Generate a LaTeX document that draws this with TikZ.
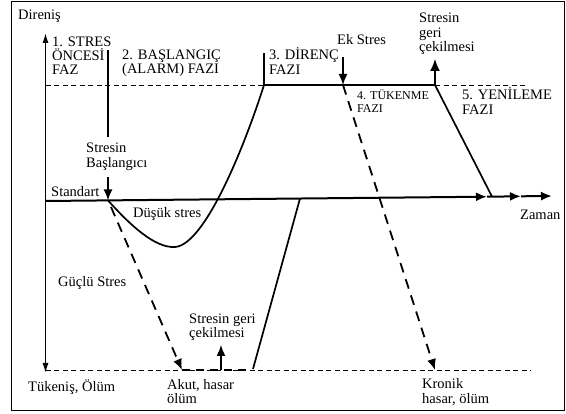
\documentclass[tikz,border=0pt]{standalone}
\usepackage{fontspec}
\setmainfont{Liberation Serif}
\usetikzlibrary{arrows.meta}
\begin{document}
\begin{tikzpicture}[x=1pt,y=-1pt,
  lbl/.style={anchor=base west, inner sep=0pt, align=left, font=\fontsize{14.5}{14.5}\selectfont},
  lead/.style={font=\fontsize{14.5}{#1}\selectfont},
  smalllbl/.style={anchor=base west, inner sep=0pt, align=left, font=\fontsize{12}{13}\selectfont},
  bigtip/.style={-{Latex[length=11pt,width=9pt]}},
  thindash/.style={line width=0.9pt, dash pattern=on 5pt off 3.5pt},
  thickdash/.style={line width=1.8pt, dash pattern=on 10pt off 7pt},
  baseln/.style={line width=2pt},
  sep/.style={line width=1.5pt},
  crv/.style={line width=1.7pt}]
\useasboundingbox (0,0) rectangle (566,414);
\draw[line width=1pt] (11.5,2) rectangle (564.5,411);

% coordinates
\coordinate (ytop) at (45.5,33);
\coordinate (ybot) at (45.5,373);
\coordinate (d0) at (45.5,85);
\coordinate (r0) at (264,85);
\coordinate (r1) at (435,85);
\coordinate (d1) at (528,85);
\coordinate (v1a) at (108,50);
\coordinate (v1b) at (108,137);
\coordinate (v3a) at (264,53);
\coordinate (sb0) at (108,177);
\coordinate (st) at (108,200.4);
\coordinate (s0) at (45.5,201);
\coordinate (a1) at (487,196.7);
\coordinate (a2) at (521,196.3);
\coordinate (a3) at (552,196);
\coordinate (y1) at (492,196.6);
\coordinate (cmin) at (175,247);
\coordinate (g0) at (111,207);
\coordinate (g1) at (182,370);
\coordinate (ek0) at (343,57);
\coordinate (ek) at (343,85);
\coordinate (kr) at (435,370);
\coordinate (up) at (435,59);
\coordinate (b0) at (45.5,370);
\coordinate (b1) at (531,370);
\coordinate (b2) at (250,370);
\coordinate (gc0) at (221,370);
\coordinate (gc1) at (221,345);
\coordinate (b3) at (253,369);
\coordinate (bx) at (300,198.5);

% axis
\draw[line width=1.3pt, {Latex[length=10pt,width=6pt]}-{Latex[length=10pt,width=6pt]}] (ybot) -- (ytop);

% top level line
\draw[thindash] (d0) -- (r0);
\draw[baseln] (r0) -- (r1);
\draw[thindash] (r1) -- (d1);

% separators
\draw[sep] (v1a) -- (v1b);
\draw[sep] (v3a) -- (r0);

% stress start arrow
\draw[sep, bigtip] (sb0) -- (st);

% baseline with arrows
\draw[baseln, bigtip] (s0) -- (a1);
\draw[baseln, bigtip] (a1) -- (a2);
\draw[baseln, bigtip] (a2) -- (a3);

% resistance curve
\draw[crv] (st) .. controls (130,225) and (155,248.3) .. (cmin)
           .. controls (205,245) and (245,145) .. (r0);

% recovery
\draw[crv] (r1) -- (y1);

% strong stress
\draw[thickdash, bigtip] (g0) -- (g1);

% extra stress
\draw[sep, bigtip] (ek0) -- (ek);
\draw[thickdash, bigtip] (ek) -- (kr);

% withdrawal up arrow
\draw[sep, -{Latex[length=12pt,width=10pt]}] (r1) -- (up);

% bottom line
\draw[thindash] (b0) -- (b1);
\draw[line width=2pt, dash pattern=on 8pt off 6pt] (g1) -- (b2);
\draw[sep, bigtip] (gc0) -- (gc1);
\draw[crv] (b3) -- (bx);

% labels (multi-line nodes: base = baseline of last line)
\node[lbl] (dir) at (18,19.5) {Direniş};
\node[lbl, lead=14] (p1) at (52,75) {1. STRES\\ÖNCESİ\\FAZ};
\node[lbl, lead=13] (p2) at (122,74) {2. BAŞLANGIÇ\\(ALARM) FAZI};
\node[lbl, lead=15] (p3) at (269,75) {3. DİRENÇ\\FAZI};
\node[lbl] (eklbl) at (337,45) {Ek Stres};
\node[lbl, lead=14.5] (sgc) at (419,52) {Stresin\\geri\\çekilmesi};
\node[smalllbl] (p4) at (357,113) {4. TÜKENME\\FAZI};
\node[lbl, lead=15] (p5) at (462,115) {5. YENİLEME\\FAZI};
\node[lbl, lead=15] (sb) at (86,168) {Stresin\\Başlangıcı};
\node[lbl] (std) at (51,197) {Standart};
\node[lbl] (dus) at (133,218) {Düşük stres};
\node[lbl] (gus) at (58,287) {Güçlü Stres};
\node[lbl, lead=14] (sgc2) at (189,338) {Stresin geri\\çekilmesi};
\node[lbl] (tuk) at (28,392) {Tükeniş, Ölüm};
\node[lbl, lead=14] (akut) at (167,404) {Akut, hasar\\ölüm};
\node[lbl, lead=15] (kron) at (422,404) {Kronik\\hasar, ölüm};
\node[lbl] (zam) at (520,220) {Zaman};
\end{tikzpicture}
\end{document}
